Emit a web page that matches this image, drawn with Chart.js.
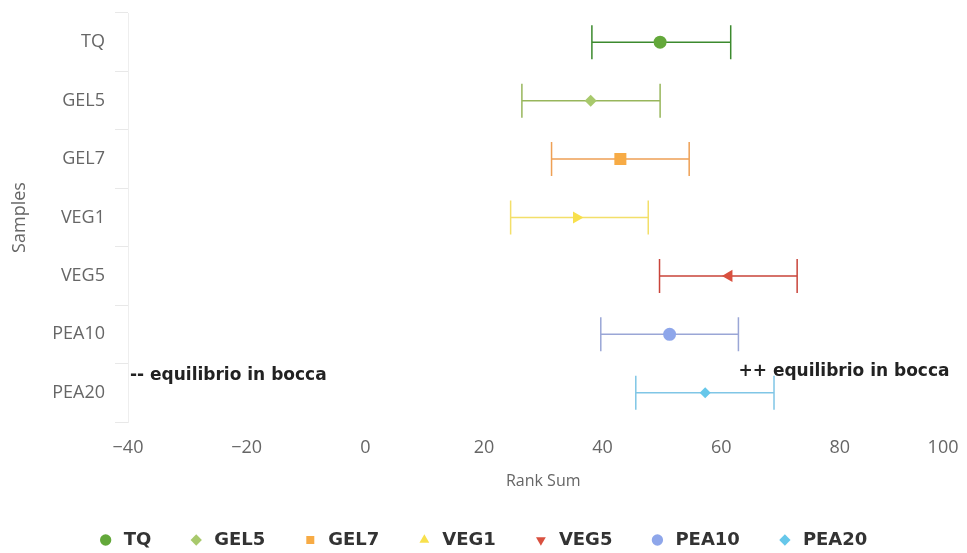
<!DOCTYPE html>
<html>
<head>
<meta charset="utf-8">
<script src="https://cdn.jsdelivr.net/npm/chart.js@4.4.0/dist/chart.umd.min.js"></script>
<style>
  html, body { margin: 0; padding: 0; background: #fff; }
  #wrap { width: 967px; height: 553px; }
</style>
</head>
<body>
<div id="wrap"><canvas id="rankChart"></canvas></div>
<script>
// samples and rank sums
var samples = ["TQ", "GEL5", "GEL7", "VEG1", "VEG5", "PEA10", "PEA20"]
var rankMean = [49.7, 38.0, 43.0, 35.6, 61.3, 51.3, 57.3]
var rankLow = [38.2, 26.4, 31.4, 24.5, 49.6, 39.7, 45.6]
var rankHigh = [61.6, 49.7, 54.6, 47.7, 72.8, 62.9, 68.9]
var xTicks = [-40, -20, 0, 20, 40, 60, 80, 100]

var pointColors = ["#63a83a", "#a8c96c", "#f7ab45", "#f8e04c", "#d9503f", "#8ea6ea", "#66c7ea"]
var barColors = ["#3c8a2e", "#98b65c", "#eea055", "#f3df6a", "#c9443a", "#9aa6d6", "#80c6e6"]
var plotStyles = ["circle", "rectRot", "rect", "triangle", "triangle", "circle", "rectRot"]
var plotRot = [0, 0, 0, 90, 270, 0, 0]
var plotRadius = [6.5, 6, 8.5, 7, 7, 6.5, 5.5]
var legendStyles = ["circle", "rectRot", "rect", "triangle", "triangle", "circle", "rectRot"]
var legendRot = [0, 0, 0, 0, 180, 0, 0]

var noteLeft = "-- equilibrio in bocca"
var noteRight = "++ equilibrio in bocca"

var tickFont = { family: "'Open Sans'", size: 18 }
var titleFont = { family: "'Open Sans'", size: 16 }

//error bars, drawn under the markers
var errorBars = {
  id: 'errorBars',
  beforeDatasetsDraw: function(chart) {
    var ctx = chart.ctx
    var xs = chart.scales.x, ys = chart.scales.y
    ctx.save()
    for (var i = 0; i < samples.length; i++) {
      var y = ys.getPixelForValue(i)
      var x1 = xs.getPixelForValue(rankLow[i])
      var x2 = xs.getPixelForValue(rankHigh[i])
      ctx.strokeStyle = barColors[i]
      ctx.lineWidth = 1.5
      ctx.beginPath()
      ctx.moveTo(x1, y); ctx.lineTo(x2, y)
      ctx.moveTo(x1, y - 17); ctx.lineTo(x1, y + 17)
      ctx.moveTo(x2, y - 17); ctx.lineTo(x2, y + 17)
      ctx.stroke()
    }
    ctx.restore()
  }
}

//the two notes on the chart
var notes = {
  id: 'notes',
  afterDraw: function(chart) {
    var ctx = chart.ctx
    var area = chart.chartArea
    var yLast = chart.scales.y.getPixelForValue(samples.length - 1)
    ctx.save()
    ctx.font = "bold 17px 'DejaVu Sans'"
    ctx.fillStyle = "#222"
    ctx.textBaseline = "middle"
    ctx.textAlign = "left"
    ctx.fillText(noteLeft, area.left + 2, yLast - 17)
    ctx.textAlign = "right"
    ctx.fillText(noteRight, area.right - 9, yLast - 21)
    ctx.restore()
  }
}

var datasets = samples.map(function(name, i) {
  return {
    label: name,
    data: [{ x: rankMean[i], y: name }],
    backgroundColor: pointColors[i],
    borderColor: pointColors[i],
    borderWidth: 0,
    pointStyle: plotStyles[i],
    pointRotation: plotRot[i],
    pointRadius: plotRadius[i]
  }
})

new Chart(document.getElementById('rankChart'), {
  type: 'scatter',
  data: { datasets: datasets },
  plugins: [errorBars, notes],
  options: {
    responsive: true,
    maintainAspectRatio: false,
    animation: false,
    layout: { padding: { top: 13, right: 3, left: 0, bottom: -6 } },
    plugins: {
      tooltip: { enabled: false },
      legend: {
        position: 'bottom',
        labels: {
          usePointStyle: true,
          boxHeight: 8,
          padding: 36,
          color: '#333',
          font: { family: "'DejaVu Sans'", size: 18, weight: 'bold' },
          generateLabels: function(chart) {
            var items = Chart.defaults.plugins.legend.labels.generateLabels(chart)
            items.forEach(function(it, i) {
              it.pointStyle = legendStyles[i]
              it.rotation = legendRot[i]
              it.fillStyle = pointColors[i]
              it.strokeStyle = pointColors[i]
              it.lineWidth = 0
            })
            return items
          }
        }
      }
    },
    scales: {
      x: {
        type: 'linear',
        min: -40,
        max: 100,
        afterBuildTicks: function(scale) {
          scale.ticks = xTicks.map(function(v) { return { value: v } })
        },
        afterFit: function(scale) {
          scale.height = 73
          scale.paddingLeft = 0
          scale.paddingRight = 0
        },
        grid: { display: false },
        border: { display: false },
        ticks: {
          padding: 7,
          color: '#666',
          font: tickFont,
          maxRotation: 0,
          callback: function(v) {
            if (v == 100) return v + '\u2007\u2007\u2007'
            return v < 0 ? '\u2212' + Math.abs(v) : '' + v
          }
        },
        title: {
          display: true,
          text: 'Rank Sum',
          color: '#666',
          font: titleFont,
          padding: { top: 4, bottom: 4 }
        }
      },
      y: {
        type: 'category',
        labels: samples,
        offset: true,
        afterFit: function(scale) {
          scale.width = 128
          scale.paddingTop = 0
          scale.paddingBottom = 0
        },
        grid: {
          offset: true,
          drawOnChartArea: false,
          tickLength: 13,
          color: '#e8e8e8'
        },
        border: { display: true, color: '#eeeeee' },
        ticks: { padding: 10, color: '#666', font: tickFont },
        title: {
          display: true,
          text: 'Samples',
          color: '#666',
          font: { family: "'Open Sans'", size: 18 },
          padding: { top: 9, bottom: 0 }
        }
      }
    }
  }
})
</script>
</body>
</html>
